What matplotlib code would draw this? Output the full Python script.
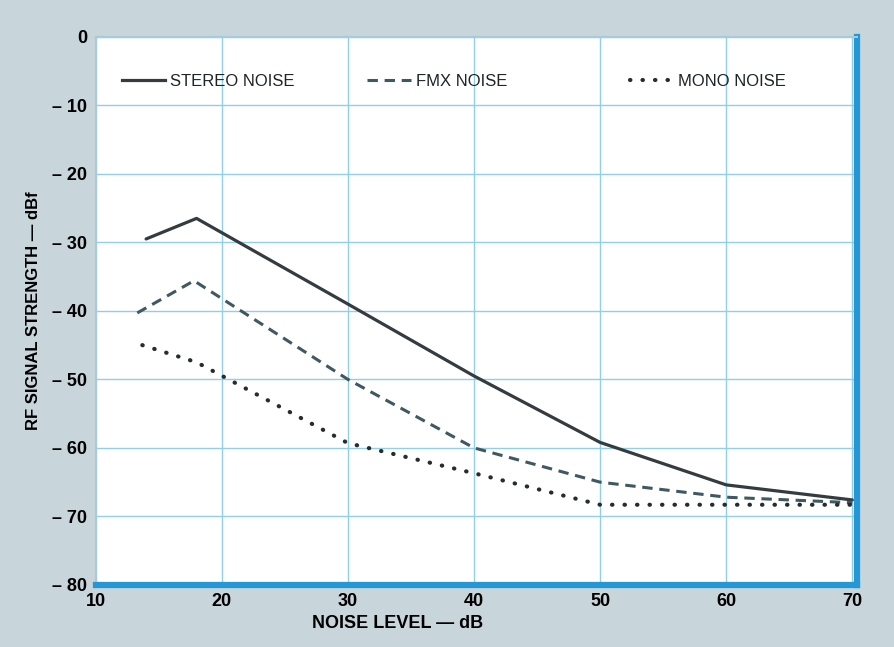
import numpy as np
import matplotlib
matplotlib.use("Agg")
import matplotlib.pyplot as plt
from matplotlib.lines import Line2D
from matplotlib.legend import Legend

# values
noise_db = [14, 18, 30, 40, 50, 60, 70]
stereo = [-29.5, -26.5, -39, -49.5, -59.2, -65.4, -67.6]
fmx_x = [13.3, 17.8, 30, 40, 50, 60, 70]
fmx = [-40.3, -35.6, -50, -60, -65, -67.2, -68]
mono_x = [13.7, 18, 30, 40, 50, 60, 70]
mono = [-45, -47.5, -59.3, -63.7, -68.3, -68.3, -68.3]

xticks = [10, 20, 30, 40, 50, 60, 70]
yticks = [0, -10, -20, -30, -40, -50, -60, -70, -80]
ylabels = ['0'] + ['\u2013 %d' % abs(v) for v in yticks[1:]]

plt.rcParams['font.family'] = ['Liberation Sans Narrow', 'Liberation Sans', 'DejaVu Sans']

fig = plt.figure(figsize=(8.94, 6.47), dpi=100)
fig.patch.set_facecolor('#c8d5da')
ax = fig.add_axes([0.107, 0.096, 0.852, 0.847])
ax.set_facecolor('white')

c_stereo = '#343c40'
c_fmx = '#3f5862'
c_mono = '#262c30'
dash = (0, (3.4, 2.2))
dots = (0, (0.1, 2.9))

ax.plot(noise_db, stereo, color=c_stereo, lw=2.3, solid_capstyle='round', zorder=3)
ax.plot(fmx_x, fmx, color=c_fmx, lw=2.2, linestyle=dash, zorder=3)
ax.plot(mono_x, mono, color=c_mono, lw=3.0, linestyle=dots,
        dash_capstyle='round', zorder=3)

ax.set_xlim(10, 70.4)
ax.set_ylim(-80, 0)
ax.set_xticks(xticks)
ax.set_yticks(yticks)
ax.set_xticklabels([str(v) for v in xticks], fontsize=13, fontweight='bold')
ax.set_yticklabels(ylabels, fontsize=13, fontweight='bold')
ax.tick_params(length=0, pad=6)
ax.grid(True, color='#8fd0e6', lw=1.0)
ax.set_axisbelow(True)

for s in ['left', 'top']:
    ax.spines[s].set_color('#a9cbd8')
    ax.spines[s].set_linewidth(1.5)
for s in ['bottom', 'right']:
    ax.spines[s].set_color('#2497d6')
    ax.spines[s].set_linewidth(4.5)

ax.set_xlabel('NOISE LEVEL \u2014 dB', fontsize=13, fontweight='bold')
ax.xaxis.set_label_coords(0.396, -0.055)
ax.set_ylabel('RF SIGNAL STRENGTH \u2014 dBf', fontsize=12, fontweight='bold', labelpad=8)

# legend: three separate entries spread across the top
entries = [
    (Line2D([], [], color=c_stereo, lw=2.3), 'STEREO NOISE', 0.015),
    (Line2D([], [], color=c_fmx, lw=2.2, linestyle=dash), 'FMX NOISE', 0.337),
    (Line2D([], [], color=c_mono, lw=3.0, linestyle=dots,
            dash_capstyle='round'), 'MONO NOISE', 0.682),
]
for h, lab, xa in entries:
    leg = Legend(ax, [h], [lab], loc='upper left', bbox_to_anchor=(xa, 0.96),
                 frameon=False, fontsize=12, handlelength=2.6, handletextpad=0.3,
                 labelcolor='#1e2428')
    ax.add_artist(leg)

fig.savefig('out.png', dpi=100, facecolor=fig.get_facecolor())
